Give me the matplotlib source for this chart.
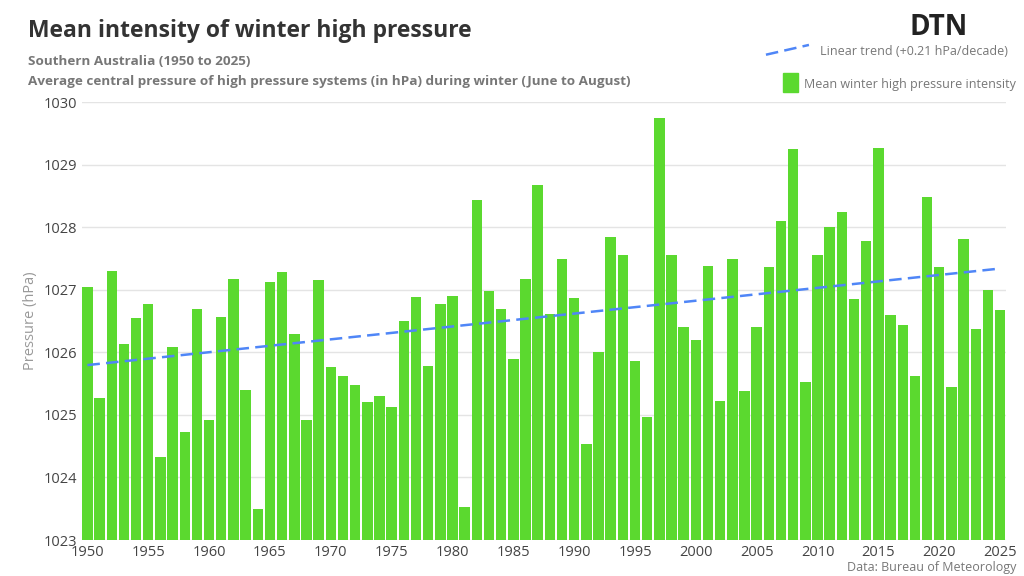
#! /usr/bin/env python
# -*- coding: utf-8 -*

import numpy as np
import matplotlib.pyplot as plt
from matplotlib.patches import Rectangle
from matplotlib.lines import Line2D

plt.rcParams['font.family'] = ['Open Sans', 'DejaVu Sans']

years = list(range(1950, 2026))
pressure = [
  1027.05, 1025.27, 1027.30, 1026.13, 1026.55, 1026.77, 1024.32, 1026.08, 1024.72, 1026.70,
  1024.92, 1026.56, 1027.18, 1025.40, 1023.50, 1027.12, 1027.28, 1026.30, 1024.92, 1027.15,
  1025.77, 1025.63, 1025.48, 1025.20, 1025.30, 1025.12, 1026.50, 1026.88, 1025.78, 1026.77,
  1026.90, 1023.52, 1028.43, 1026.98, 1026.70, 1025.90, 1027.18, 1028.67, 1026.62, 1027.50,
  1026.87, 1024.53, 1026.00, 1027.85, 1027.55, 1025.87, 1024.97, 1029.75, 1027.56, 1026.40,
  1026.20, 1027.38, 1025.22, 1027.50, 1025.38, 1026.40, 1027.37, 1028.10, 1029.25, 1025.52,
  1027.56, 1028.00, 1028.24, 1026.85, 1027.78, 1029.27, 1026.60, 1026.43, 1025.62, 1028.48,
  1027.37, 1025.44, 1027.82, 1026.38, 1027.00, 1026.68,
]
xticks = list(range(1950, 2030, 5))
yticks = list(range(1023, 1031))

GREEN = '#5bd92f'
BLUE = '#4f86f7'
GREY = '#777777'

def make_plot(years, vals, filename):
  fig = plt.figure(figsize=(10.24, 5.76), dpi=100)
  ax = fig.add_axes([0.08, 0.0625, 0.902, 0.76])
  ax.bar(years, [v - 1023 for v in vals], bottom=1023, width=0.86, color=GREEN, zorder=2)
  # linear trend from the data itself
  k, b = np.polyfit(years, vals, 1)
  trend = [k * y + b for y in years]
  ax.plot(years, trend, '--', color=BLUE, lw=1.8, dashes=(5, 2.5), zorder=3)
  ax.set_xlim(1949.55, 2025.45)
  ax.set_ylim(1023, 1030)
  ax.set_xticks(xticks)
  ax.set_yticks(yticks)
  ax.tick_params(length=0, labelsize=10.5, labelcolor='#444444')
  ax.grid(True, axis='y', color='#e4e4e4', lw=1, zorder=0)
  for s in ax.spines.values():
    s.set_visible(False)
  ax.set_ylabel('Pressure (hPa)', color='#999999', fontsize=10.5)
  # titles
  fig.text(0.027, 0.935, 'Mean intensity of winter high pressure', fontsize=16.5, fontweight='bold', color='#333333')
  fig.text(0.027, 0.888, 'Southern Australia (1950 to 2025)', fontsize=9.7, fontweight='bold', color=GREY)
  fig.text(0.027, 0.853, 'Average central pressure of high pressure systems (in hPa) during winter (June to August)',
           fontsize=9.7, fontweight='bold', color=GREY)
  # legend
  fig.add_artist(Line2D([0.748, 0.79], [0.905, 0.922], color=BLUE, lw=1.8, ls='--', dashes=(5, 2.5)))
  fig.text(0.984, 0.905, 'Linear trend (+0.21 hPa/decade)', fontsize=9, color=GREY, ha='right')
  fig.add_artist(Rectangle((0.765, 0.84), 0.014, 0.034, color=GREEN))
  fig.text(0.992, 0.847, 'Mean winter high pressure intensity', fontsize=9, color=GREY, ha='right')
  # logo and source
  fig.text(0.888, 0.94, 'DTN', fontsize=20, fontweight='bold', color='#222222')
  fig.text(0.993, 0.008, 'Data: Bureau of Meteorology', fontsize=9, color=GREY, ha='right')

  plt.savefig(filename)

def main():
  make_plot(years, pressure, 'out.png')

if __name__ == "__main__":
  main()
